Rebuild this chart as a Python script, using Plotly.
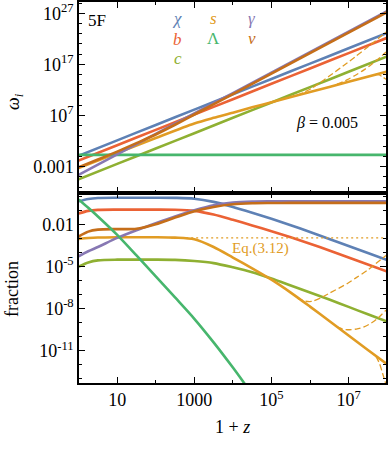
import numpy as np
import plotly.graph_objects as go

# ---- data, all values are log10 ----
# top panel: omega_i vs 1+z
lz_top = [0, 1, 2, 3, 4, 5, 6, 7, 8]
chi_top = [-0.85, 2.15, 5.15, 8.15, 11.15, 14.15, 17.15, 20.15, 23.15]
b_top = [-1.8, 1.2, 4.2, 7.2, 10.2, 13.2, 16.2, 19.2, 22.2]
c_top = [-5.45, -2.45, 0.55, 3.55, 6.55, 9.55, 12.55, 15.55, 18.55]
gam_top = [-4.6, -0.6, 3.4, 7.4, 11.4, 15.4, 19.4, 23.4, 27.4]
lz_lam_top = [0, 8]
lam_top = [-0.7, -0.7]
lz_nu_top = [0, 0.5, 1, 1.5, 2, 2.5, 3, 4, 5, 6, 7, 8]
nu_top = [-3.1, -1.6, -0.05, 1.6, 3.3, 5.2, 7.2, 11.2, 15.2, 19.2, 23.2, 27.2]
lz_s_top = [0, 1, 2, 3, 3.5, 4, 4.5, 5, 6, 7, 8]
s_top = [-3.25, -0.35, 2.6, 5.45, 6.55, 7.55, 8.6, 9.6, 11.6, 13.6, 15.6]

# dashed s variants
lz_d1 = [5.67, 5.85, 6.05, 6.3, 6.5, 6.97, 7.19, 7.49, 7.97]
d1_top = [10.95, 11.58, 12.35, 13.63, 14.73, 17.31, 18.59, 20.34, 23.31]
d1_frac = [-7.25, -7.45, -7.48, -7.2, -6.9, -6.2, -5.8, -5.25, -4.2]
lz_d2 = [6.7, 6.85, 6.97, 7.2, 7.4, 7.6, 7.74, 7.97]
d2_top = [13.13, 13.58, 14.01, 14.98, 15.93, 17.03, 17.87, 19.41]
d2_frac = [-9.3, -9.45, -9.5, -9.45, -9.3, -9.0, -8.72, -8.1]
lz_d3 = [7.71, 7.8, 7.88, 7.97]
d3_top = [15.07, 14.93, 14.55, 14.11]
d3_frac = [-11.4, -11.9, -12.6, -13.4]

# bottom panel: fractions
lz = [0, 0.25, 0.5, 1, 1.5, 2, 2.5, 3, 3.5, 4, 4.5, 5, 5.5, 6, 6.5, 7, 7.5, 8]
chi_f = [-0.34, -0.17, -0.1, -0.08, -0.08, -0.08, -0.09, -0.15, -0.38, -0.74, -1.15, -1.58, -2.04, -2.53, -3.03, -3.53, -4.03, -4.53]
b_f = [-1.21, -1.02, -0.95, -0.93, -0.93, -0.93, -0.94, -1.02, -1.28, -1.66, -2.06, -2.47, -2.9, -3.36, -3.85, -4.35, -4.85, -5.35]
c_f = [-5.0, -4.7, -4.55, -4.5, -4.5, -4.5, -4.52, -4.6, -4.75, -5.05, -5.4, -5.85, -6.35, -6.85, -7.35, -7.87, -8.4, -8.92]
s_f = [-3.02, -2.96, -2.92, -2.9, -2.9, -2.9, -2.93, -3.05, -3.6, -4.35, -5.12, -5.93, -6.85, -7.85, -8.88, -9.91, -10.94, -11.97]
gam_f = [-4.26, -3.9, -3.6, -2.95, -2.4, -1.9, -1.42, -0.98, -0.62, -0.43, -0.36, -0.34, -0.33, -0.33, -0.33, -0.33, -0.33, -0.33]
nu_f = [-2.85, -2.5, -2.36, -2.32, -2.3, -1.97, -1.5, -1.05, -0.74, -0.55, -0.48, -0.46, -0.45, -0.45, -0.45, -0.45, -0.45, -0.45]
lz_lam = [0, 0.25, 0.5, 1, 1.5, 2, 2.5, 3, 3.5, 4, 4.5]
lam_f = [-0.2, -0.8, -1.42, -2.73, -4.2, -5.7, -7.2, -8.72, -10.4, -12.2, -14.1]
lz_eq = [2.4, 7.97]
eq_f = [-2.95, -2.95]

colors = {"chi": "#5E81B5", "b": "#EB6235", "c": "#8FB032", "s": "#E19C24",
          "lam": "#47B66D", "gam": "#8778B3", "nu": "#C56E1A"}

def p10(a):
    return np.power(10.0, np.array(a, dtype=float))

fig = go.Figure()

def add(lx, ly, col, xa, ya, width=2.6, dash=None):
    fig.add_trace(go.Scatter(x=p10(lx), y=p10(ly), mode="lines", xaxis=xa, yaxis=ya,
                             line=dict(color=col, width=width, dash=dash, shape="spline", smoothing=0.8),
                             showlegend=False, hoverinfo="skip"))

# top panel
add(lz_top, chi_top, colors["chi"], "x", "y")
add(lz_top, b_top, colors["b"], "x", "y")
add(lz_top, c_top, colors["c"], "x", "y")
add(lz_s_top, s_top, colors["s"], "x", "y")
add(lz_lam_top, lam_top, colors["lam"], "x", "y")
add(lz_top, gam_top, colors["gam"], "x", "y")
add(lz_nu_top, nu_top, colors["nu"], "x", "y")
for lx, ly in [(lz_d1, d1_top), (lz_d2, d2_top), (lz_d3, d3_top)]:
    add(lx, ly, colors["s"], "x", "y", width=1.3, dash="6px,3px")

# bottom panel
add(lz, chi_f, colors["chi"], "x2", "y2")
add(lz, b_f, colors["b"], "x2", "y2")
add(lz, c_f, colors["c"], "x2", "y2")
add(lz, s_f, colors["s"], "x2", "y2")
add(lz, gam_f, colors["gam"], "x2", "y2")
add(lz, nu_f, colors["nu"], "x2", "y2")
add(lz_lam, lam_f, colors["lam"], "x2", "y2")
for lx, ly in [(lz_d1, d1_frac), (lz_d2, d2_frac), (lz_d3, d3_frac)]:
    add(lx, ly, colors["s"], "x2", "y2", width=1.3, dash="6px,3px")
add(lz_eq, eq_f, colors["s"], "x2", "y2", width=1.3, dash="2px,3px")

font = "Liberation Serif"
ax_common = dict(type="log", showline=True, linecolor="black", linewidth=1.5, mirror="allticks",
                 ticks="inside", ticklen=6, tickwidth=1, tickcolor="black", showgrid=False,
                 zeroline=False, automargin=False,
                 tickfont=dict(family=font, size=18, color="black"))

x_major = [10, 1e3, 1e5, 1e7]
x_minor = [1e2, 1e4, 1e6]
x_text = ["10", "1000", "10<sup>5</sup>", "10<sup>7</sup>"]
ytop_major = [1e27, 1e17, 1e7, 1e-3]
ytop_text = ["10<sup>27</sup>", "10<sup>17</sup>", "10<sup>7</sup>", "0.001"]
ytop_minor = [10.0 ** k for k in [29, 25, 23, 21, 19, 15, 13, 11, 9, 5, 3, 1, -1, -5, -7]]
ybot_major = [1e-2, 1e-5, 1e-8, 1e-11]
ybot_text = ["0.01", "10<sup>-5</sup>", "10<sup>-8</sup>", "10<sup>-11</sup>"]
ybot_minor = [10.0 ** k for k in [0, -1, -3, -4, -6, -7, -9, -10, -12, -13]]

minor_x = dict(tickmode="array", tickvals=x_minor, ticks="inside", ticklen=3, tickcolor="black")

fig.update_layout(
    width=389, height=450, margin=dict(l=79, r=3, t=2, b=67, autoexpand=False),
    plot_bgcolor="white", paper_bgcolor="white",
    font=dict(family=font),
    xaxis=dict(ax_common, domain=[0, 1], anchor="y", range=[0.01, 7.97],
               tickmode="array", tickvals=x_major, showticklabels=False, minor=minor_x),
    xaxis2=dict(ax_common, domain=[0, 1], anchor="y2", range=[0.01, 7.97],
                tickmode="array", tickvals=x_major, ticktext=x_text, minor=minor_x),
    yaxis=dict(ax_common, domain=[0.5, 1], anchor="x", range=[-8.05, 29.2],
               tickmode="array", tickvals=ytop_major, ticktext=ytop_text,
               minor=dict(tickmode="array", tickvals=ytop_minor, ticks="inside", ticklen=3, tickcolor="black")),
    yaxis2=dict(ax_common, domain=[0, 0.5], anchor="x2", range=[-13.3, 0.29],
                tickmode="array", tickvals=ybot_major, ticktext=ybot_text,
                minor=dict(tickmode="array", tickvals=ybot_minor, ticks="inside", ticklen=3, tickcolor="black")),
)

def px2paper(px, py):
    return (px - 79) / 307, (383 - py) / 381

def note(px, py, text, size=18, color="black", angle=0):
    x, y = px2paper(px, py)
    fig.add_annotation(x=x, y=y, xref="paper", yref="paper", text=text, showarrow=False,
                       textangle=angle, font=dict(family=font, size=size, color=color),
                       xanchor="center", yanchor="middle")

note(14, 102, "<i>ω</i><sub><i>i</i></sub>", size=18, angle=-90)
note(12, 289, "fraction", size=18, angle=-90)
note(232, 427, "1 + <i>z</i>", size=18)
note(97, 20, "5F", size=17)
note(327, 123, "<i>β</i> = 0.005", size=16)
note(260, 248, "Eq.(3.12)", size=15, color=colors["s"])

legend_items = [("χ", 177, 19, "chi"), ("b", 177, 39, "b"), ("c", 178, 58, "c"),
                ("s", 213, 18, "s"), ("Λ", 213, 38, "lam"), ("γ", 252, 18, "gam"), ("ν", 252, 38, "nu")]
for t, px, py, k in legend_items:
    note(px, py, "<i>" + t + "</i>" if t != "Λ" else t, size=17, color=colors[k])

fig.write_html("out.html", config={"displayModeBar": False},
               post_script="document.body.style.margin='0';document.body.style.overflow='hidden';")
